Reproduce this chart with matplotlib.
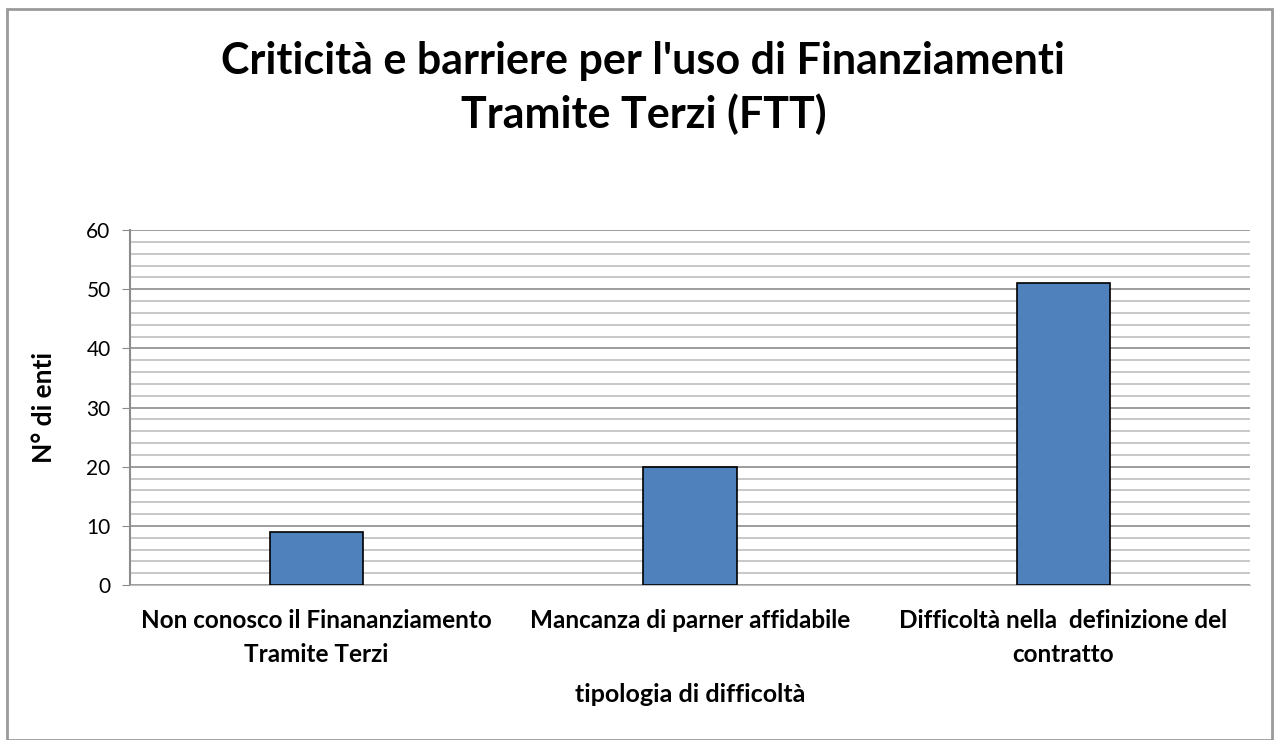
import numpy as np
import matplotlib.pyplot as plt
from matplotlib.patches import Rectangle

categories = ["Non conosco il Finananziamento\nTramite Terzi",
              "Mancanza di parner affidabile",
              "Difficoltà nella  definizione del\ncontratto"]
values = [9, 20, 51]

plt.rcParams['font.family'] = ['Lato', 'DejaVu Sans']

fig = plt.figure(figsize=(12.74, 7.4), dpi=100)
ax = fig.add_axes([130/1274, 1 - 585/740, 1120/1274, 355/740])

x = np.arange(len(categories))
ax.bar(x, values, width=0.25, color='#4f81bd', edgecolor='black', linewidth=1.2, zorder=3)

ax.set_xlim(-0.5, 2.5)
ax.set_ylim(0, 60)
ax.set_yticks(np.arange(0, 61, 10))
ax.set_yticks(np.arange(0, 61, 2), minor=True)
ax.yaxis.grid(True, which='major', color='#8c8c8c', linewidth=1.2, zorder=0)
ax.yaxis.grid(True, which='minor', color='#bfbfbf', linewidth=1.2, zorder=0)
ax.tick_params(axis='y', which='major', length=6, color='#8c8c8c', labelsize=15, pad=8)
ax.tick_params(axis='y', which='minor', length=0)
ax.set_xticks(x)
ax.set_xticklabels(categories, fontsize=17.5, fontweight='bold', linespacing=1.6)
ax.tick_params(axis='x', length=0, pad=17)

for side in ['top', 'right']:
    ax.spines[side].set_visible(False)
ax.spines['left'].set_color('#8c8c8c')
ax.spines['left'].set_linewidth(1.5)
ax.spines['bottom'].set_color('#bfbfbf')

ax.set_ylabel("N° di enti", fontsize=19, fontweight='bold', labelpad=22)
ax.set_xlabel("tipologia di difficoltà", fontsize=18, fontweight='bold', labelpad=12)

fig.text(0.505, 1 - 88/740, "Criticità e barriere per l'uso di Finanziamenti\nTramite Terzi (FTT)",
         ha='center', va='center', fontsize=31, fontweight='bold', linespacing=1.35)

fig.patches.append(Rectangle((7/1274, 0), 1 - 7/1274 - 2/1274, 1 - 9/740, transform=fig.transFigure,
                             fill=False, edgecolor='#9a9a9a', linewidth=2))

fig.savefig('out.png', dpi=100)
